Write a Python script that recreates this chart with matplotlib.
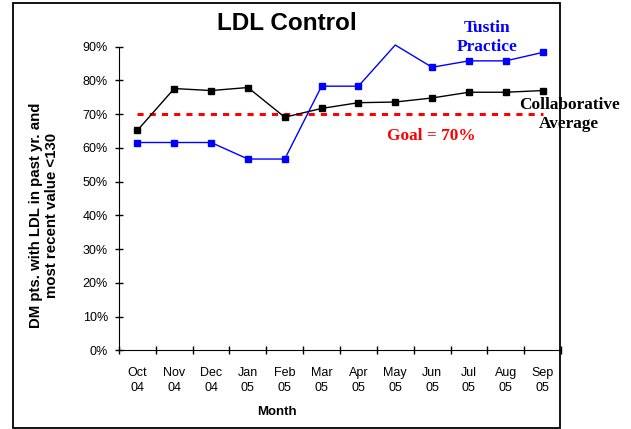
import matplotlib
matplotlib.use("Agg")
import matplotlib.pyplot as plt
from matplotlib.patches import Rectangle
from matplotlib.ticker import FixedLocator, PercentFormatter

months = ["Oct\n04", "Nov\n04", "Dec\n04", "Jan\n05", "Feb\n05", "Mar\n05",
          "Apr\n05", "May\n05", "Jun\n05", "Jul\n05", "Aug\n05", "Sep\n05"]
collaborative = [0.652, 0.776, 0.770, 0.779, 0.691, 0.717,
                 0.734, 0.736, 0.748, 0.765, 0.765, 0.770]
tustin = [0.616, 0.616, 0.616, 0.567, 0.567, 0.783,
          0.783, 0.905, 0.839, 0.858, 0.858, 0.883]
goal = 0.70
yticks = [0, 0.1, 0.2, 0.3, 0.4, 0.5, 0.6, 0.7, 0.8, 0.9]

W, H = 631, 429
fig = plt.figure(figsize=(W / 100, H / 100), dpi=100)
ax = fig.add_axes([119 / W, (H - 350.3) / H, (561 - 119) / W, (350.3 - 46.7) / H])

x = list(range(len(months)))
ymax = 0.9

ax.plot(x, collaborative, color="black", lw=1.0, marker="s", ms=4.5,
        clip_on=False, zorder=3)
mk = [i for i, v in enumerate(tustin) if v <= ymax]
ax.plot(x, tustin, color="#0000FF", lw=1.0, marker="s", ms=4.5,
        markevery=mk, clip_on=False, zorder=3)
ax.plot([x[0], x[-1]], [goal, goal], color="#FF0000", lw=2.2,
        dashes=(2, 2), zorder=2)

ax.set_xlim(-0.5, len(months) - 0.5)
ax.set_ylim(0, ymax)
for s in ["top", "right"]:
    ax.spines[s].set_visible(False)

ax.yaxis.set_major_locator(FixedLocator(yticks))
ax.yaxis.set_major_formatter(PercentFormatter(1.0, decimals=0))
ax.tick_params(axis="y", direction="inout", length=6, width=1, pad=5,
               labelsize=9)

ax.set_xticks([i - 0.5 for i in range(len(months) + 1)])
ax.set_xticklabels([])
ax.set_xticks(x, minor=True)
ax.set_xticklabels(months, minor=True, fontsize=9, linespacing=1.35)
ax.tick_params(axis="x", which="major", direction="inout", length=6, width=1)
ax.tick_params(axis="x", which="minor", length=0, pad=12)

for lab in ax.get_yticklabels() + ax.get_xticklabels(minor=True):
    lab.set_family("Liberation Sans")

fig.text(277 / W, 1 - 412 / H, "Month", ha="center", va="center",
         fontsize=9.5, fontweight="bold", family="Liberation Sans")
fig.text(44 / W, 1 - 215 / H,
         "DM pts. with LDL in past yr. and\nmost recent value <130",
         ha="center", va="center", rotation=90, multialignment="center",
         fontsize=10.8, fontweight="bold", family="Liberation Sans",
         linespacing=1.15)

fig.text(287 / W, 1 - 24 / H, "LDL Control", ha="center", va="center",
         fontsize=17.5, fontweight="bold", family="Liberation Sans")

ax.text(9.49, 0.926, "Tustin\nPractice", ha="center", va="center",
        color="#0000FF", fontsize=12.5, fontweight="bold",
        family="Liberation Serif", linespacing=1.25)
ax.text(11.72, 0.70, "Collaborative\nAverage", ha="center", va="center",
        color="black", fontsize=12.4, fontweight="bold",
        family="Liberation Serif", linespacing=1.25)
ax.text(7.99, 0.636, "Goal = 70%", ha="center", va="center",
        color="#FF0000", fontsize=12.4, fontweight="bold",
        family="Liberation Serif")

fig.patches.append(Rectangle((13 / W, 1 / H), (560 - 13) / W, (427 - 2) / H,
                             transform=fig.transFigure, fill=False,
                             edgecolor="black", lw=1.3))

fig.savefig("out.png", dpi=100)
